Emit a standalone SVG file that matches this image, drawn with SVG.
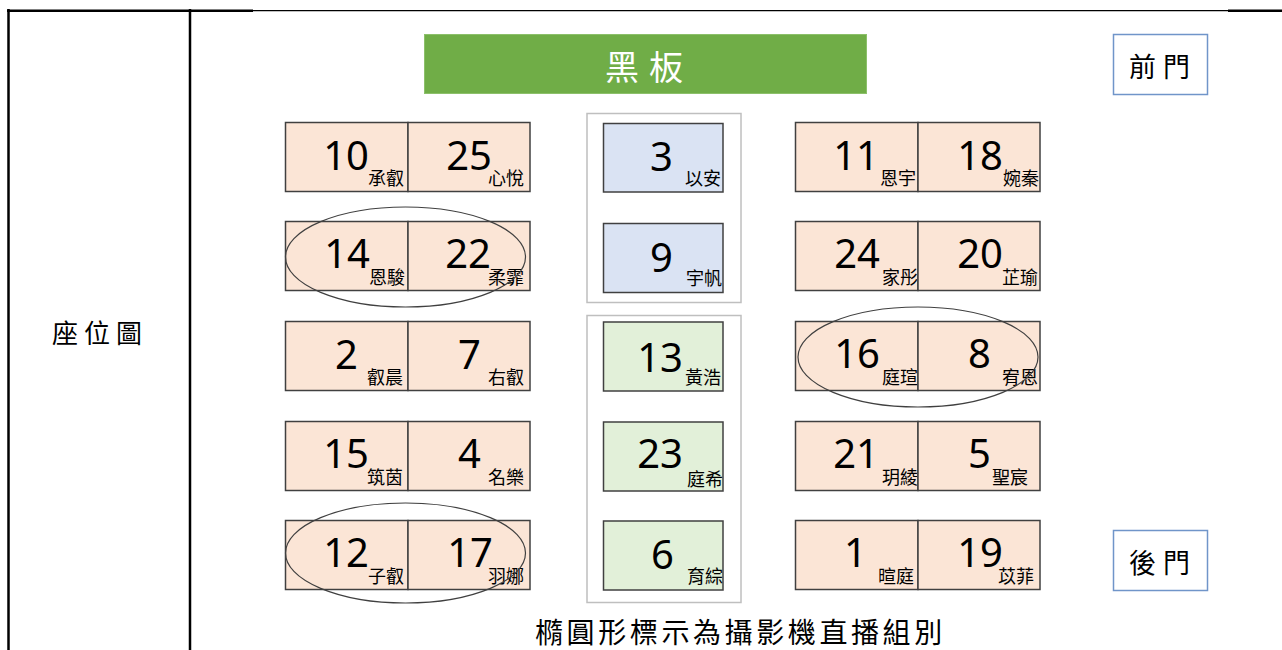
<svg xmlns="http://www.w3.org/2000/svg" width="1282" height="650" viewBox="0 0 1282 650">
<style>
.seatL{fill:#FBE5D6;stroke:#404040;stroke-width:1.5}
.seatB{fill:#DAE3F3;stroke:#404040;stroke-width:1.5}
.seatG{fill:#E2F0D9;stroke:#404040;stroke-width:1.5}
.num{font-family:"Noto Sans","Open Sans",sans-serif;font-size:40px;fill:#000;text-anchor:end}
.nm{font-family:"Noto Sans CJK TC","Noto Sans CJK SC",sans-serif;font-size:18px;fill:#000;text-anchor:end}
.grp{fill:none;stroke:#BFBFBF;stroke-width:1.5}
.cam{fill:none;stroke:#404040;stroke-width:1.2}
.door{fill:#fff;stroke:#7095C9;stroke-width:1.5}
.cjk{font-family:"Noto Sans CJK TC","Noto Sans CJK SC",sans-serif;fill:#000}
.tbl{stroke:#000;fill:none}
</style>
<rect width="1282" height="650" fill="#fff"/>
<g id="table">
<line class="tbl" x1="8.5" y1="9" x2="8.5" y2="650" stroke-width="2.5"/>
<line class="tbl" x1="190" y1="9" x2="190" y2="650" stroke-width="2.5"/>
<line class="tbl" x1="7" y1="10.7" x2="253" y2="10.7" stroke-width="2.5"/>
<line class="tbl" x1="253" y1="10.6" x2="1228" y2="10.6" stroke-width="1.2"/>
<line class="tbl" x1="1228" y1="10.7" x2="1282" y2="10.7" stroke-width="2.5"/>
<text class="cjk" x="52" y="343" font-size="26" letter-spacing="6">座位圖</text>
</g>
<g id="blackboard">
<rect x="424.5" y="34.5" width="442" height="59" fill="#70AD47" stroke="#8CC06A" stroke-width="1"/>
<text x="605" y="80" font-family="Noto Sans CJK TC, Noto Sans CJK SC, sans-serif" font-size="34" fill="#fff" letter-spacing="10">黑板</text>
</g>
<g id="front-door">
<rect class="door" x="1113.5" y="34.5" width="94" height="60"/>
<text class="cjk" x="1129" y="77" font-size="27" letter-spacing="7">前門</text>
</g>
<g id="back-door">
<rect class="door" x="1113.5" y="530.5" width="94" height="60"/>
<text class="cjk" x="1129" y="573" font-size="27" letter-spacing="7">後門</text>
</g>
<g id="center-groups">
<rect class="grp" x="587" y="113.5" width="154" height="189"/>
<rect class="grp" x="587" y="315.5" width="154" height="287"/>
</g>
<!-- left block -->
<g id="seat-10"><rect class="seatL" x="285.5" y="122.5" width="122.5" height="69"/><text class="num" x="369" y="170">10</text><text class="nm" x="404" y="185">承叡</text></g>
<g id="seat-25"><rect class="seatL" x="408" y="122.5" width="122" height="69"/><text class="num" x="492" y="170">25</text><text class="nm" x="524" y="185">心悅</text></g>
<g id="seat-14"><rect class="seatL" x="285.5" y="221.5" width="122.5" height="69"/><text class="num" x="370" y="268">14</text><text class="nm" x="405" y="284">恩駿</text></g>
<g id="seat-22"><rect class="seatL" x="408" y="221.5" width="122" height="69"/><text class="num" x="491" y="268">22</text><text class="nm" x="524" y="284">柔霏</text></g>
<g id="seat-2"><rect class="seatL" x="285.5" y="321.5" width="122.5" height="69"/><text class="num" x="358" y="369">2</text><text class="nm" x="403" y="384">叡晨</text></g>
<g id="seat-7"><rect class="seatL" x="408" y="321.5" width="122" height="69"/><text class="num" x="481" y="369">7</text><text class="nm" x="524" y="384">右叡</text></g>
<g id="seat-15"><rect class="seatL" x="285.5" y="421.5" width="122.5" height="69"/><text class="num" x="369" y="468">15</text><text class="nm" x="403" y="484">筑茵</text></g>
<g id="seat-4"><rect class="seatL" x="408" y="421.5" width="122" height="69"/><text class="num" x="481" y="468">4</text><text class="nm" x="524" y="484">名樂</text></g>
<g id="seat-12"><rect class="seatL" x="285.5" y="520.5" width="122.5" height="69"/><text class="num" x="369" y="567">12</text><text class="nm" x="404" y="583">子叡</text></g>
<g id="seat-17"><rect class="seatL" x="408" y="520.5" width="122" height="69"/><text class="num" x="493" y="567">17</text><text class="nm" x="524" y="583">羽娜</text></g>
<!-- center -->
<g id="seat-3"><rect class="seatB" x="603.5" y="123.5" width="119.5" height="68.5"/><text class="num" x="673" y="171">3</text><text class="nm" x="721" y="185">以安</text></g>
<g id="seat-9"><rect class="seatB" x="603.5" y="223.5" width="119.5" height="69"/><text class="num" x="673" y="272">9</text><text class="nm" x="722" y="285">宇帆</text></g>
<g id="seat-13"><rect class="seatG" x="603.5" y="322" width="119.5" height="69"/><text class="num" x="683" y="372">13</text><text class="nm" x="721" y="384">黃浩</text></g>
<g id="seat-23"><rect class="seatG" x="603.5" y="422" width="119.5" height="69"/><text class="num" x="683" y="468">23</text><text class="nm" x="723" y="486">庭希</text></g>
<g id="seat-6"><rect class="seatG" x="603.5" y="521" width="119.5" height="69"/><text class="num" x="674" y="569">6</text><text class="nm" x="723" y="583">育綜</text></g>
<!-- right block -->
<g id="seat-11"><rect class="seatL" x="795.5" y="122.5" width="122.5" height="69"/><text class="num" x="879" y="170">11</text><text class="nm" x="916" y="185">恩宇</text></g>
<g id="seat-18"><rect class="seatL" x="918" y="122.5" width="122" height="69"/><text class="num" x="1003" y="170">18</text><text class="nm" x="1039" y="185">婉秦</text></g>
<g id="seat-24"><rect class="seatL" x="795.5" y="221.5" width="122.5" height="69"/><text class="num" x="880" y="268">24</text><text class="nm" x="918" y="284">家彤</text></g>
<g id="seat-20"><rect class="seatL" x="918" y="221.5" width="122" height="69"/><text class="num" x="1003" y="268">20</text><text class="nm" x="1038" y="284">芷瑜</text></g>
<g id="seat-16"><rect class="seatL" x="795.5" y="321.5" width="122.5" height="69"/><text class="num" x="880" y="368">16</text><text class="nm" x="918" y="384">庭瑄</text></g>
<g id="seat-8"><rect class="seatL" x="918" y="321.5" width="122" height="69"/><text class="num" x="991" y="368">8</text><text class="nm" x="1038" y="384">宥恩</text></g>
<g id="seat-21"><rect class="seatL" x="795.5" y="421.5" width="122.5" height="69"/><text class="num" x="879" y="468">21</text><text class="nm" x="918" y="484">玥綾</text></g>
<g id="seat-5"><rect class="seatL" x="918" y="421.5" width="122" height="69"/><text class="num" x="991" y="468">5</text><text class="nm" x="1028" y="484">聖宸</text></g>
<g id="seat-1"><rect class="seatL" x="795.5" y="520.5" width="122.5" height="69"/><text class="num" x="867" y="567">1</text><text class="nm" x="914" y="583">暄庭</text></g>
<g id="seat-19"><rect class="seatL" x="918" y="520.5" width="122" height="69"/><text class="num" x="1003" y="567">19</text><text class="nm" x="1034" y="583">苡菲</text></g>
<g id="camera-groups">
<ellipse class="cam" cx="405.5" cy="257" rx="120" ry="50"/>
<ellipse class="cam" cx="405.5" cy="553" rx="120" ry="50"/>
<ellipse class="cam" cx="918" cy="357" rx="120" ry="50"/>
</g>
<g id="caption">
<text class="cjk" x="535" y="643" font-size="28" letter-spacing="3.6">橢圓形標示為攝影機直播組別</text>
</g>
</svg>
